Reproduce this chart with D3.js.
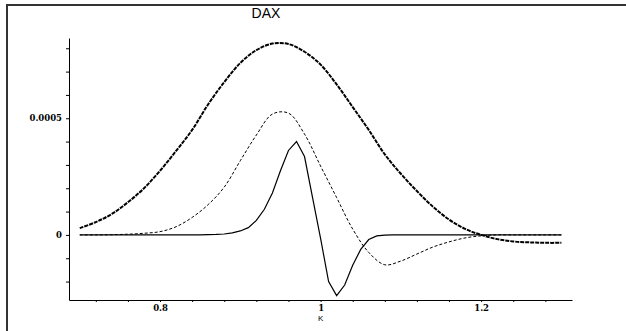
<!DOCTYPE html>
<html>
<head>
<meta charset="utf-8">
<script src="https://cdn.jsdelivr.net/npm/d3@7"></script>
<style>
  body { margin: 0; background: #fff; }
  .tick text { font-family: "DejaVu Serif", serif; font-weight: bold; font-size: 8.5px; fill: #000; }
  .domain, .tick line { stroke: #000; }
</style>
</head>
<body>
<div id="chart"></div>
<script>
// strike values K
var kSmooth = [0.70, 0.72, 0.74, 0.76, 0.78, 0.80, 0.82, 0.84, 0.86, 0.88, 0.90,
  0.92, 0.94, 0.96, 0.98, 1.00, 1.02, 1.04, 1.06, 1.08, 1.10,
  1.12, 1.14, 1.16, 1.18, 1.20, 1.22, 1.24, 1.26, 1.28, 1.30];

// thick dashed curve
var wideValues = [0.000029, 0.000055, 0.000090, 0.000140, 0.000200, 0.000275, 0.000360, 0.000450, 0.000560, 0.000655, 0.000737,
  0.000792, 0.000820, 0.000818, 0.000785, 0.000730, 0.000645, 0.000548, 0.000450, 0.000345, 0.000262,
  0.000188, 0.000121, 0.000066, 0.000026, 0.000000, -0.000018, -0.000028, -0.000032, -0.000034, -0.000034];

// thin dashed curve
var midValues = [0, 0, 0.000001, 0.000003, 0.000007, 0.000014, 0.000035, 0.000075, 0.000130, 0.000205, 0.000318,
  0.000428, 0.000518, 0.000522, 0.000432, 0.000295, 0.000160, 0.000025, -0.000075, -0.000128, -0.000112,
  -0.000082, -0.000052, -0.000030, -0.000013, -0.000004, 0, 0, 0, 0, 0];

// solid curve, finer K grid
var kFine = [0.70, 0.71, 0.72, 0.73, 0.74, 0.75, 0.76, 0.77, 0.78, 0.79,
  0.80, 0.81, 0.82, 0.83, 0.84, 0.85, 0.86, 0.87, 0.88, 0.89,
  0.90, 0.91, 0.92, 0.93, 0.94, 0.95, 0.96, 0.97, 0.98, 0.99,
  1.00, 1.01, 1.02, 1.03, 1.04, 1.05, 1.06, 1.07, 1.08, 1.09,
  1.10, 1.11, 1.12, 1.13, 1.14, 1.15, 1.16, 1.17, 1.18, 1.19,
  1.20, 1.21, 1.22, 1.23, 1.24, 1.25, 1.26, 1.27, 1.28, 1.29, 1.30];
var narrowValues = [0, 0, 0, 0, 0, 0, 0, 0, 0, 0,
  0, 0, 0, 0, 0, 0, 0.000001, 0.000002, 0.000004, 0.000009,
  0.000017, 0.000031, 0.000062, 0.000110, 0.000180, 0.000275, 0.000362, 0.000400, 0.000336, 0.000160,
  -0.000015, -0.000200, -0.000260, -0.000215, -0.000130, -0.000062, -0.000020, -0.000004, -0.000001, 0,
  0, 0, 0, 0, 0, 0, 0, 0, 0, 0,
  0, 0, 0, 0, 0, 0, 0, 0, 0, 0, 0];

var xTicks = [0.72, 0.76, 0.8, 0.84, 0.88, 0.92, 0.96, 1, 1.04, 1.08, 1.12, 1.16, 1.2, 1.24, 1.28];
var xLabels = [0.8, 1, 1.2];
var yTicks = [-0.0002, -0.0001, 0, 0.0001, 0.0002, 0.0003, 0.0004, 0.0005, 0.0006, 0.0007, 0.0008];
var yLabels = [0, 0.0005];

var W = 626, H = 331;

var x = d3.scaleLinear().domain([0.6866, 1.3132]).range([69, 572]);
var y = d3.scaleLinear().domain([-0.000279, 0.000844]).range([300, 38]);

var svg = d3.select("#chart")
  .append("svg")
  .attr("width", W)
  .attr("height", H);

svg.append("rect").attr("width", W).attr("height", H).attr("fill", "#fff");

// frame
svg.append("path")
  .attr("d", "M7," + H + "V5H" + W)
  .attr("fill", "none")
  .attr("stroke", "#333")
  .attr("stroke-width", 2);

svg.append("text")
  .attr("x", 266)
  .attr("y", 18)
  .attr("text-anchor", "middle")
  .attr("fill", "#000")
  .style("font-family", "Liberation Sans, Arial, sans-serif")
  .style("font-size", "14px")
  .text("DAX");

var xAxis = d3.axisBottom(x)
  .tickValues(xTicks)
  .tickSize(2)
  .tickSizeOuter(0)
  .tickPadding(3)
  .tickFormat(function (d) {
    return xLabels.some(function (v) { return Math.abs(v - d) < 1e-9; }) ? d3.format("")(d) : "";
  });

var yAxis = d3.axisLeft(y)
  .tickValues(yTicks)
  .tickSize(3)
  .tickSizeOuter(0)
  .tickPadding(4)
  .tickFormat(function (d) {
    return yLabels.some(function (v) { return Math.abs(v - d) < 1e-12; }) ? (d === 0 ? "0" : "0.0005") : "";
  });

svg.append("g").attr("class", "x-axis").attr("transform", "translate(0,300)").call(xAxis);
svg.append("g").attr("class", "y-axis").attr("transform", "translate(69,0)").call(yAxis);

svg.append("text")
  .attr("x", x(1))
  .attr("y", 320.5)
  .attr("text-anchor", "middle")
  .attr("fill", "#000")
  .style("font-family", "Liberation Sans, Arial, sans-serif")
  .style("font-size", "8px")
  .text("K");

var smoothLine = d3.line()
  .x(function (d) { return x(d[0]); })
  .y(function (d) { return y(d[1]); })
  .curve(d3.curveCatmullRom.alpha(0.5));

var straightLine = d3.line()
  .x(function (d) { return x(d[0]); })
  .y(function (d) { return y(d[1]); });

svg.append("path")
  .datum(d3.zip(kSmooth, wideValues))
  .attr("d", smoothLine)
  .attr("fill", "none")
  .attr("stroke", "#000")
  .attr("stroke-width", 2)
  .attr("stroke-dasharray", "4,1");

svg.append("path")
  .datum(d3.zip(kSmooth, midValues))
  .attr("d", smoothLine)
  .attr("fill", "none")
  .attr("stroke", "#000")
  .attr("stroke-width", 1)
  .attr("stroke-dasharray", "3,2");

svg.append("path")
  .datum(d3.zip(kFine, narrowValues))
  .attr("d", straightLine)
  .attr("fill", "none")
  .attr("stroke", "#000")
  .attr("stroke-width", 1.2);
</script>
</body>
</html>
